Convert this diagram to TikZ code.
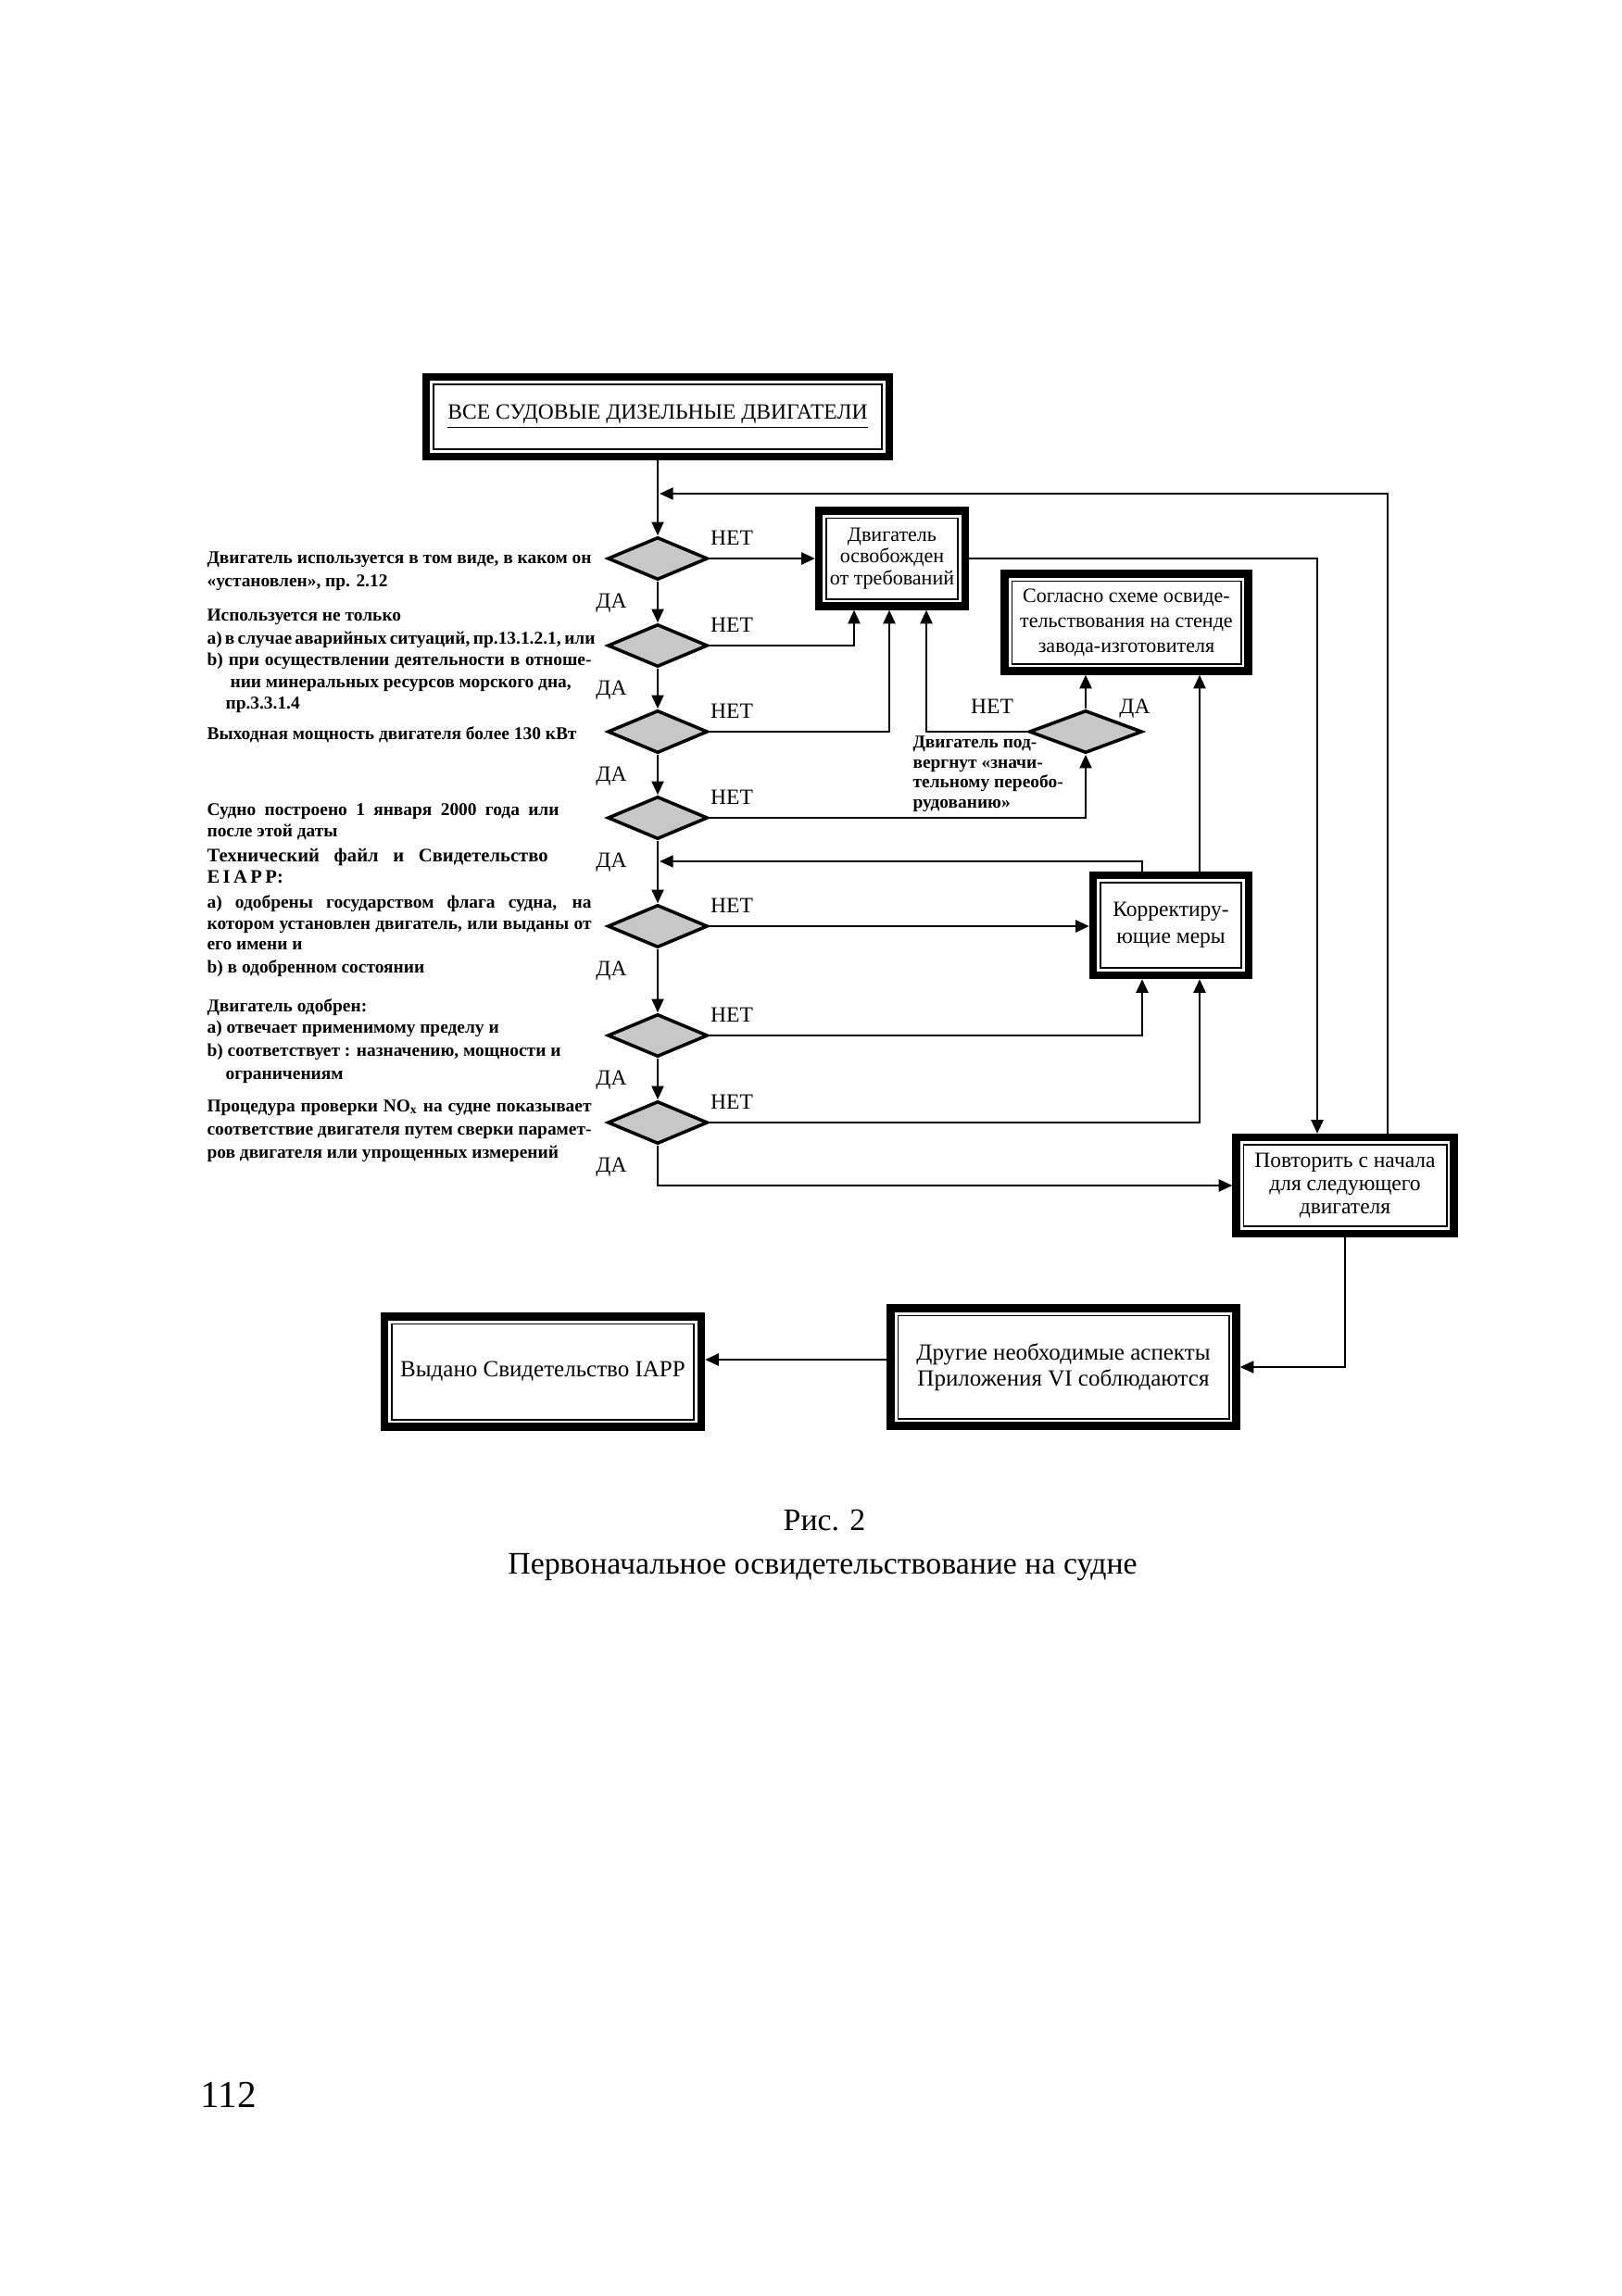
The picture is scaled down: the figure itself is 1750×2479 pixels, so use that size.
\documentclass[tikz,border=0pt]{standalone}
\usepackage{fontspec}
\setmainfont{Liberation Serif}
\usetikzlibrary{arrows.meta,shapes.geometric}
\newcommand{\px}{0.34pt}
\newcommand{\lf}{\fontsize{6.6}{8}\selectfont\bfseries}
\newcommand{\jl}[2]{\makebox[\dimexpr0.34pt*#1\relax][s]{#2}}
\begin{document}
\begin{tikzpicture}[x=0.34pt,y=-0.34pt,
  fbox/.style={draw, line width=2.8pt, inner sep=0, align=center, font=\fontsize{7.5}{8}\selectfont},
  dia/.style={diamond, draw, line width=1.2pt, fill=black!22, inner sep=0, minimum width=108*\px, minimum height=46*\px},
  conn/.style={line width=0.8pt, -{Triangle[length=5pt,width=4.4pt]}},
  lab/.style={font=\fontsize{8}{9}\selectfont, inner sep=0},
  lt/.style={anchor=base west, inner sep=0, font=\lf},
  inner/.style={line width=0.6pt}]
\useasboundingbox (0,0) rectangle (1750,2479);

% boxes
\node[fbox, minimum width=500*\px, minimum height=86*\px, font=\fontsize{8}{9}\selectfont] (b0) at (710,450) {\underline{ВСЕ СУДОВЫЕ ДИЗЕЛЬНЫЕ ДВИГАТЕЛИ}};
\node[fbox, minimum width=158*\px, minimum height=103*\px] (b1) at (963,603) {Двигатель\\освобожден\\от требований};
\node[fbox, minimum width=263*\px, minimum height=105*\px, font=\fontsize{7.5}{9.2}\selectfont] (b2) at (1216,672) {Согласно схеме освиде-\\тельствования на стенде\\завода-изготовителя};
\node[fbox, minimum width=168*\px, minimum height=108*\px, font=\fontsize{8}{10}\selectfont] (b3) at (1264,999) {Корректиру-\\ющие меры};
\node[fbox, minimum width=235*\px, minimum height=104*\px, font=\fontsize{8}{8.5}\selectfont] (b4) at (1452,1280) {Повторить с начала\\для следующего\\двигателя};
\node[fbox, minimum width=373*\px, minimum height=127*\px, font=\fontsize{8.5}{9.5}\selectfont] (b5) at (1148,1476) {Другие необходимые аспекты\\Приложения VI соблюдаются};
\node[fbox, minimum width=342*\px, minimum height=119*\px, font=\fontsize{8.5}{9.5}\selectfont] (b6) at (586,1481) {Выдано Свидетельство IAPP};
\foreach \b in {b0,b1,b2,b3,b4,b5,b6}
  \draw[inner] ([shift={(12,12)}]\b.north west) rectangle ([shift={(-12,-12)}]\b.south east);

% diamonds
\node[dia] (d1) at (710,603) {};
\node[dia] (d2) at (710,697) {};
\node[dia] (d3) at (710,790) {};
\node[dia] (d4) at (710,883) {};
\node[dia] (d5) at (710,1000) {};
\node[dia] (d6) at (710,1118) {};
\node[dia] (d7) at (710,1212) {};
\node[dia, minimum width=122*\px] (d8) at (1172,790) {};

% feedback points on the main line
\coordinate (fb1) at (712,533);
\coordinate (fb2) at (712,930);

% main line
\draw[conn] (b0.south) -- (d1.north);
\draw[conn] (d1.south) -- (d2.north);
\draw[conn] (d2.south) -- (d3.north);
\draw[conn] (d3.south) -- (d4.north);
\draw[conn] (d4.south) -- (d5.north);
\draw[conn] (d5.south) -- (d6.north);
\draw[conn] (d6.south) -- (d7.north);
\draw[conn] (d7.south) |- (b4.west);

% branches
\draw[conn] (d1.east) -- (d1.east -| b1.west);
\draw[conn] (d2.east) -| (922,0 |- b1.south);
\draw[conn] (d3.east) -| (960,0 |- b1.south);
\draw[conn] (d8.west) -| (1000,0 |- b1.south);
\draw[conn] (d4.east) -| (d8.south);
\draw[conn] (d8.north) -- (d8.north |- b2.south);
\draw[conn] (1295,0 |- b3.north) -- (1295,0 |- b2.south);
\draw[conn] (1233,0 |- b3.north) |- (fb2);
\draw[conn] (d5.east) -- (d5.east -| b3.west);
\draw[conn] (d6.east) -| (1233,0 |- b3.south);
\draw[conn] (d7.east) -| (1295,0 |- b3.south);
\draw[conn] (b1.east) -| (1422,0 |- b4.north);
\draw[conn] (1498,0 |- b4.north) |- (fb1);
\draw[conn] (b4.south) |- (b5.east);
\draw[conn] (b5.west |- 0,1468) -- (b6.east |- 0,1468);

% yes / no labels
\foreach \d/\y in {1/603,2/697,3/790,4/883,5/1000,6/1118,7/1212}{
  \node[lab] (n\d) at (790,\y-22) {НЕТ};
  \node[lab] (y\d) at (660,\y+48) {ДА};
}
\node[lab] (n8) at (1071,763) {НЕТ};
\node[lab] (y8) at (1225,765) {ДА};

% text under small diamond
\node[lt] (s1) at (985,807) {Двигатель под-};
\node[lt] (s2) at (985,829) {вергнут «значи-};
\node[lt] (s3) at (985,850) {тельному переобо-};
\node[lt] (s4) at (985,872) {рудованию»};

% left texts
\node[lt] (t1a) at (223,608) {\jl{415}{Двигатель используется в том виде, в каком он}};
\node[lt] (t1b) at (223,633) {«установлен», пр. 2.12};
\node[lt] (t2a) at (223,670) {Используется не только};
\node[lt] (t2b) at (223,695) {\jl{415}{a) в случае аварийных ситуаций, пр.13.1.2.1, или}};
\node[lt] (t2c) at (223,718) {\jl{415}{b) при осуществлении деятельности в отноше-}};
\node[lt] (t2d) at (248,742) {нии минеральных ресурсов морского дна,};
\node[lt] (t2e) at (243,765) {пр.3.3.1.4};
\node[lt] (t3) at (223,798) {Выходная мощность двигателя более 130 кВт};
\node[lt] (t4a) at (223,880) {\jl{380}{Судно построено 1 января 2000 года или}};
\node[lt] (t4b) at (223,903) {после этой даты};
\node[lt, font=\fontsize{7}{8}\selectfont\bfseries] (t5a) at (223,930) {\jl{368}{Технический файл и Свидетельство}};
\node[lt, font=\fontsize{7}{8}\selectfont\bfseries] (t5b) at (223,953) {E\,I\,A\,P\,P:};
\node[lt] (t6a) at (223,980) {\jl{415}{a) одобрены государством флага судна, на}};
\node[lt] (t6b) at (223,1003) {\jl{415}{котором установлен двигатель, или выданы от}};
\node[lt] (t6c) at (223,1025) {его имени и};
\node[lt] (t6d) at (223,1050) {b) в одобренном состоянии};
\node[lt] (t7a) at (223,1092) {Двигатель одобрен:};
\node[lt] (t7b) at (223,1115) {a) отвечает применимому пределу и};
\node[lt] (t7c) at (223,1140) {b) соответствует : назначению, мощности и};
\node[lt] (t7d) at (243,1165) {ограничениям};
\node[lt] (t8a) at (223,1200) {\jl{415}{Процедура проверки NO\textsubscript{x} на судне показывает}};
\node[lt] (t8b) at (223,1225) {\jl{415}{соответствие двигателя путем сверки парамет-}};
\node[lt] (t8c) at (223,1250) {ров двигателя или упрощенных измерений};

% caption and page number
\node[anchor=base, inner sep=0, font=\fontsize{11.5}{13}\selectfont] (c1) at (890,1652) {Рис. 2};
\node[anchor=base, inner sep=0, font=\fontsize{11.5}{13}\selectfont] (c2) at (888,1699) {Первоначальное освидетельствование на судне};
\node[anchor=base west, inner sep=0, font=\fontsize{14}{16}\selectfont] (pg) at (216,2275) {112};
\end{tikzpicture}
\end{document}
